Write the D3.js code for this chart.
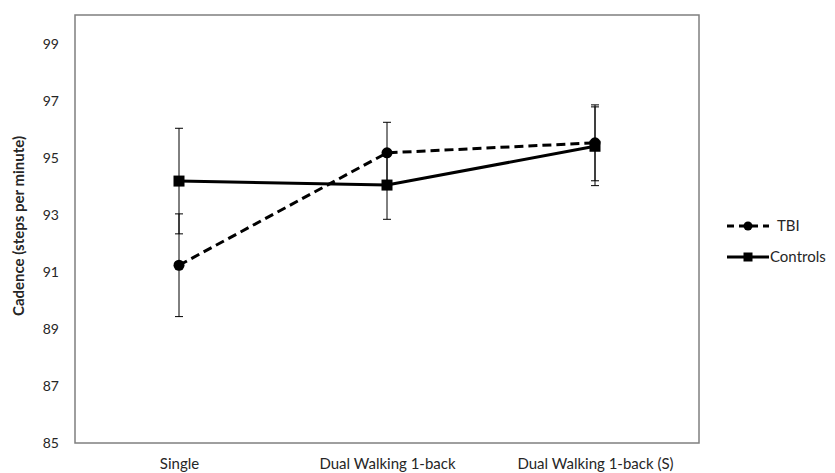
<!DOCTYPE html>
<html>
<head>
<meta charset="utf-8">
<script src="https://cdn.jsdelivr.net/npm/d3@7"></script>
<style>
  body { margin: 0; background: #fff; }
  text { font-family: Lato, 'Open Sans', sans-serif; fill: #262626; }
</style>
</head>
<body>
<div id="chart"></div>
<script>
const categories = ['Single', 'Dual Walking 1-back', 'Dual Walking 1-back (S)'];
const tbiValues = [91.23, 95.17, 95.52];
const tbiErrors = [1.8, 1.07, 1.33];
const controlValues = [94.18, 94.04, 95.4];
const controlErrors = [1.85, 1.2, 1.38];
const yTicks = [85, 87, 89, 91, 93, 95, 97, 99];

const width = 835, height = 473;
const margin = { top: 15, right: 136, bottom: 30, left: 75 };
const plotW = width - margin.left - margin.right;
const plotH = height - margin.top - margin.bottom;

const svg = d3.select('#chart').append('svg')
  .attr('width', width)
  .attr('height', height);

const g = svg.append('g')
  .attr('transform', `translate(${margin.left}, ${margin.top})`);

let x = d3.scalePoint().domain(categories).range([0, plotW]).padding(0.5);
let y = d3.scaleLinear().domain([85, 100]).range([plotH, 0]);

// frame
g.append('rect')
  .attr('x', 0).attr('y', 0)
  .attr('width', plotW).attr('height', plotH)
  .attr('fill', 'none')
  .attr('stroke', '#7f7f7f')
  .attr('stroke-width', 1.5);

// y axis labels
let yAxis = d3.axisLeft(y).tickValues(yTicks).tickSize(0).tickPadding(16);
g.append('g').attr('class', 'y axis').call(yAxis)
  .call(s => s.select('.domain').remove())
  .selectAll('text')
  .style('font-family', 'Lato, sans-serif')
  .style('font-size', '14px')
  .style('fill', '#262626');

// x axis labels
let xAxis = d3.axisBottom(x).tickSize(0).tickPadding(15);
g.append('g').attr('class', 'x axis')
  .attr('transform', `translate(0, ${plotH})`)
  .call(xAxis)
  .call(s => s.select('.domain').remove())
  .selectAll('text')
  .style('font-family', 'Lato, sans-serif')
  .style('font-size', '15px')
  .style('fill', '#262626');

// y title
svg.append('text')
  .attr('transform', `translate(24, ${margin.top + plotH / 2 - 3}) rotate(-90)`)
  .attr('text-anchor', 'middle')
  .style('font-size', '15px')
  .style('font-weight', 'bold')
  .text('Cadence (steps per minute)');

const series = [
  { name: 'Controls', values: controlValues, errors: controlErrors, dash: null, marker: 'square' },
  { name: 'TBI', values: tbiValues, errors: tbiErrors, dash: '9,5', marker: 'circle' }
];

// error bars
series.forEach(s => {
  const eb = g.append('g');
  categories.forEach((c, i) => {
    const cx = x(c);
    const hi = y(s.values[i] + s.errors[i]);
    const lo = y(s.values[i] - s.errors[i]);
    eb.append('line').attr('x1', cx).attr('x2', cx).attr('y1', hi).attr('y2', lo)
      .attr('stroke', '#000').attr('stroke-width', 1);
    [hi, lo].forEach(yy => {
      eb.append('line').attr('x1', cx - 4).attr('x2', cx + 4).attr('y1', yy).attr('y2', yy)
        .attr('stroke', '#000').attr('stroke-width', 1);
    });
  });
});

// lines + markers
series.forEach(s => {
  let line = d3.line()
    .x((d, i) => x(categories[i]))
    .y(d => y(d));
  g.append('path')
    .datum(s.values)
    .attr('fill', 'none')
    .attr('stroke', '#000')
    .attr('stroke-width', 3)
    .attr('stroke-dasharray', s.dash)
    .attr('d', line);
  s.values.forEach((v, i) => {
    if (s.marker === 'circle') {
      g.append('circle').attr('cx', x(categories[i])).attr('cy', y(v)).attr('r', 5.5).attr('fill', '#000');
    } else {
      g.append('rect').attr('x', x(categories[i]) - 5.5).attr('y', y(v) - 5.5)
        .attr('width', 11).attr('height', 11).attr('fill', '#000');
    }
  });
});

// legend
const legend = svg.append('g').attr('transform', 'translate(727, 0)');
const legendItems = [
  { name: 'TBI', dash: '7,5', marker: 'circle', yy: 226 },
  { name: 'Controls', dash: null, marker: 'square', yy: 257 }
];
legendItems.forEach(d => {
  legend.append('line')
    .attr('x1', 0).attr('x2', 42).attr('y1', d.yy).attr('y2', d.yy)
    .attr('stroke', '#000').attr('stroke-width', 3)
    .attr('stroke-dasharray', d.dash);
  if (d.marker === 'circle') {
    legend.append('circle').attr('cx', 21).attr('cy', d.yy).attr('r', 4.5).attr('fill', '#000');
  } else {
    legend.append('rect').attr('x', 16.5).attr('y', d.yy - 4.5).attr('width', 9).attr('height', 9).attr('fill', '#000');
  }
  legend.append('text')
    .attr('x', d.name === 'TBI' ? 50 : 43).attr('y', d.yy)
    .attr('dy', '0.35em')
    .style('font-size', '15px')
    .text(d.name);
});
</script>
</body>
</html>
